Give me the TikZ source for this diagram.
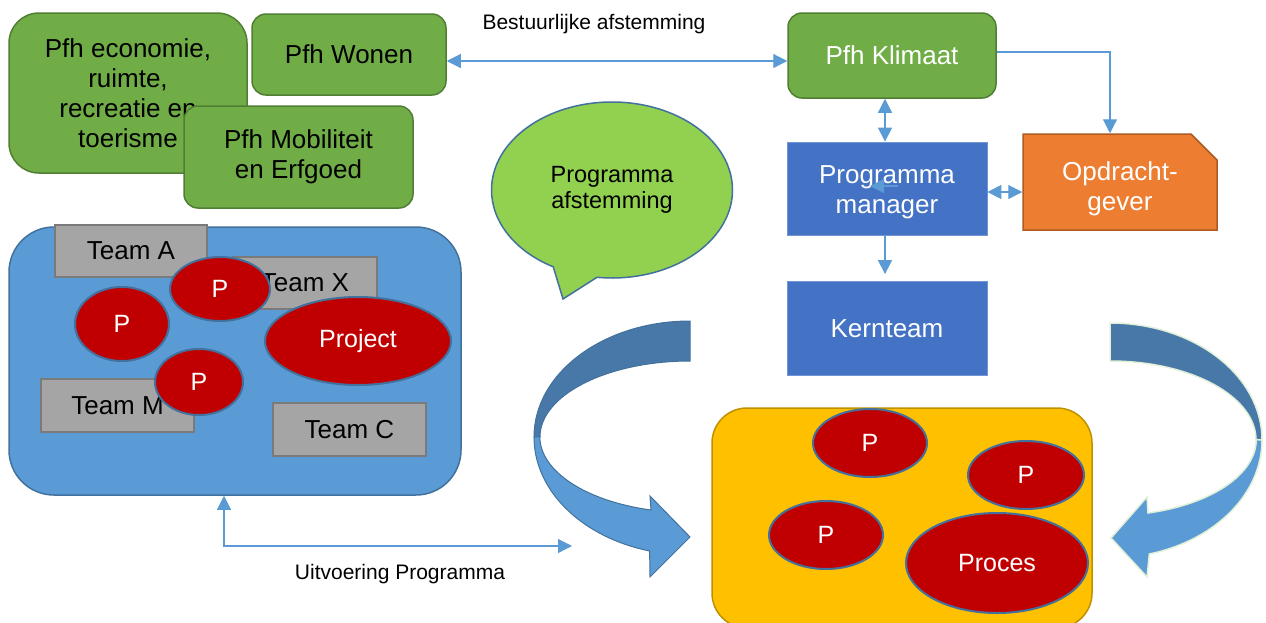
\documentclass[tikz,border=0pt]{standalone}
\usepackage{fontspec}
\setmainfont{Liberation Sans}
\usepackage{tikz}
\usetikzlibrary{positioning, shapes.geometric, shapes.misc, shapes.callouts, arrows.meta, calc}
\definecolor{groen}{HTML}{70AD47}
\definecolor{groenrand}{HTML}{507E32}
\definecolor{lichtgroen}{HTML}{92D050}
\definecolor{blauw}{HTML}{4472C4}
\definecolor{lijnblauw}{HTML}{5B9BD5}
\definecolor{randblauw}{HTML}{41719C}
\definecolor{donkerblauw}{HTML}{4878A8}
\definecolor{oranje}{HTML}{ED7D31}
\definecolor{oranjerand}{HTML}{AE5A21}
\definecolor{grijs}{HTML}{A5A5A5}
\definecolor{grijsrand}{HTML}{7A7A7A}
\definecolor{rood}{HTML}{C00000}
\definecolor{geel}{HTML}{FFC000}
\definecolor{geelrand}{HTML}{BF9000}
\definecolor{bleekgroen}{HTML}{E2F0D9}
\tikzstyle{pfh} = [rectangle, rounded corners=14pt, fill=groen, draw=groenrand, line width=1.5pt, inner sep=0pt, text centered, font=\fontsize{26}{30}\selectfont]
\tikzstyle{prog} = [rectangle, minimum width=200pt, fill=blauw, draw=blauw!75!white, line width=0.8pt, inner sep=0pt, text=white, text centered, font=\fontsize{26}{30}\selectfont]
\tikzstyle{opdracht} = [chamfered rectangle, chamfered rectangle corners=north east, chamfered rectangle xsep=13pt, chamfered rectangle ysep=13pt, minimum width=194pt, minimum height=96pt, inner sep=0pt, fill=oranje, draw=oranjerand, line width=1.5pt, text=white, text centered, font=\fontsize{26}{30}\selectfont]
\tikzstyle{team} = [rectangle, fill=grijs, draw=grijsrand, line width=2pt, minimum height=52pt, inner sep=0pt, font=\fontsize{26}{30}\selectfont]
\tikzstyle{proj} = [ellipse, fill=rood, draw=randblauw, line width=2pt, inner sep=0pt, text=white, font=\fontsize{25}{30}\selectfont]
\tikzstyle{blok} = [rectangle, rounded corners=45pt, fill=lijnblauw, draw=randblauw, line width=1.5pt]
\tikzstyle{geelblok} = [rectangle, rounded corners=35pt, fill=geel, draw=geelrand, line width=1.5pt]
\tikzstyle{uitleg} = [font=\fontsize{21}{25}\selectfont]
\tikzstyle{arrow} = [->, >={Triangle[length=14pt, width=14pt]}, draw=lijnblauw, line width=1.2pt]

\begin{document}
\begin{tikzpicture}[x=1pt, y=-1pt, node distance=140pt, align=center]
  \useasboundingbox (0,0) rectangle (1266,622);
  \clip (0,0) rectangle (1266,622);

  %portefeuillehouders
  \node (econ) [pfh, rounded corners=30pt, minimum width=238pt, minimum height=160pt] at (128,93) {Pfh economie,\\ruimte,\\recreatie en\\toerisme};
  \node (wonen) [pfh, minimum width=194pt, minimum height=81pt] at (349,54.5) {Pfh Wonen};
  \node (mobi) [pfh, minimum width=229pt, minimum height=102pt] at (298.5,157) {Pfh Mobiliteit\\en Erfgoed};
  \node (klimaat) [pfh, text=white, minimum width=208pt, minimum height=85pt] at (892,55.5) {Pfh Klimaat};

  %programma
  \node (manager) [prog, below of=klimaat, xshift=-5pt, yshift=7pt, minimum height=93pt] {\rule{0pt}{25pt}Programma\\manager};
  \node (kern) [prog, below of=manager, minimum height=94pt] {Kernteam};
  \node (opdr) [opdracht, right of=manager, xshift=93pt, yshift=6.5pt] {\rule{0pt}{33pt}Opdracht-\\gever};
  \node (bubble) [ellipse callout, fill=lichtgroen, draw=randblauw, line width=1.5pt, minimum width=241pt, minimum height=176pt, inner sep=0pt, callout absolute pointer={(563,299)}, callout pointer arc=22, font=\fontsize{23.5}{26}\selectfont] at (612,190) {Programma\\afstemming};

  %teams en projecten
  \node (blok) [blok, minimum width=452pt, minimum height=268pt] at (235,361) {};
  \node (teamA) [team, minimum width=152pt] at (131,251) {Team A};
  \node (teamX) [team, minimum width=144pt] at (305,283) {Team X};
  \node (teamM) [team, minimum width=153pt, minimum height=53pt] at (117.5,405.5) {Team M};
  \node (teamC) [team, minimum width=153pt, minimum height=53pt] at (349.5,429.5) {Team C};
  \node (pA) [proj, minimum width=100pt, minimum height=64pt] at (220,289) {P};
  \node (pB) [proj, minimum width=94pt, minimum height=74pt] at (122,324) {P};
  \node (pC) [proj, minimum width=88pt, minimum height=66pt] at (199,382) {P};
  \node (project) [proj, minimum width=186pt, minimum height=88pt] at (358,341) {Project};

  %uitvoering
  \node (geelblok) [geelblok, minimum width=380pt, minimum height=220pt] at (902,518) {};
  \node (pD) [proj, minimum width=114pt, minimum height=68pt] at (870,443) {P};
  \node (pE) [proj, minimum width=116pt, minimum height=68pt] at (1026,475) {P};
  \node (pF) [proj, minimum width=114pt, minimum height=68pt] at (826,535) {P};
  \node (proces) [proj, minimum width=182pt, minimum height=100pt] at (997,563) {Proces};

  %gebogen pijlen
  \filldraw [fill=donkerblauw, draw=randblauw, line width=1pt] (690,321) arc (270:180:156 and 116) -- (540,437) arc (180:270:150 and 76) -- cycle;
  \filldraw [fill=lijnblauw, draw=randblauw, line width=1pt] (534,437) arc (180:105:156 and 118) -- (650,577) -- (690,537) -- (650,496) -- (651,510) arc (105:180:150 and 76) -- cycle;
  \filldraw [fill=donkerblauw, draw=bleekgroen, line width=1.5pt] (1110,323) arc (270:360:152 and 117) -- (1256,440) arc (0:-90:146 and 79) -- cycle;
  \filldraw [fill=lijnblauw, draw=bleekgroen, line width=1.5pt] (1262,440) arc (0:75:152 and 118) -- (1147,577) -- (1111,538) -- (1147,497) -- (1148,513) arc (75:0:146 and 76) -- cycle;

  %teksten
  \node (besttekst) [uitleg] at (594,24) {Bestuurlijke afstemming};
  \node (uitvtekst) [uitleg] at (400,574) {Uitvoering Programma};
  \coordinate (uitv) at (572,546);
  \coordinate (mstart) at (898,186);
  \coordinate (meind) at (870,186);

  %verbindingen
  \draw [arrow, <->] ([yshift=-6.5pt]wonen.east) -- ([yshift=-5.5pt]klimaat.west);
  \draw [arrow] ([yshift=3.5pt]klimaat.east) -| ([xshift=-10pt]opdr.north);
  \draw [arrow, <->] ([xshift=-7pt]klimaat.south) -- ([xshift=-2pt]manager.north);
  \draw [arrow, <->] ([yshift=-3.5pt]manager.east) -- ([yshift=-10pt]opdr.west);
  \draw [arrow, shorten >=7pt] ([xshift=-2pt]manager.south) -- ([xshift=-2pt]kern.north);
  \draw [arrow] (mstart) -- (meind);
  \draw [arrow, <->] ([xshift=-11pt]blok.south) |- (uitv);
\end{tikzpicture}
\end{document}
